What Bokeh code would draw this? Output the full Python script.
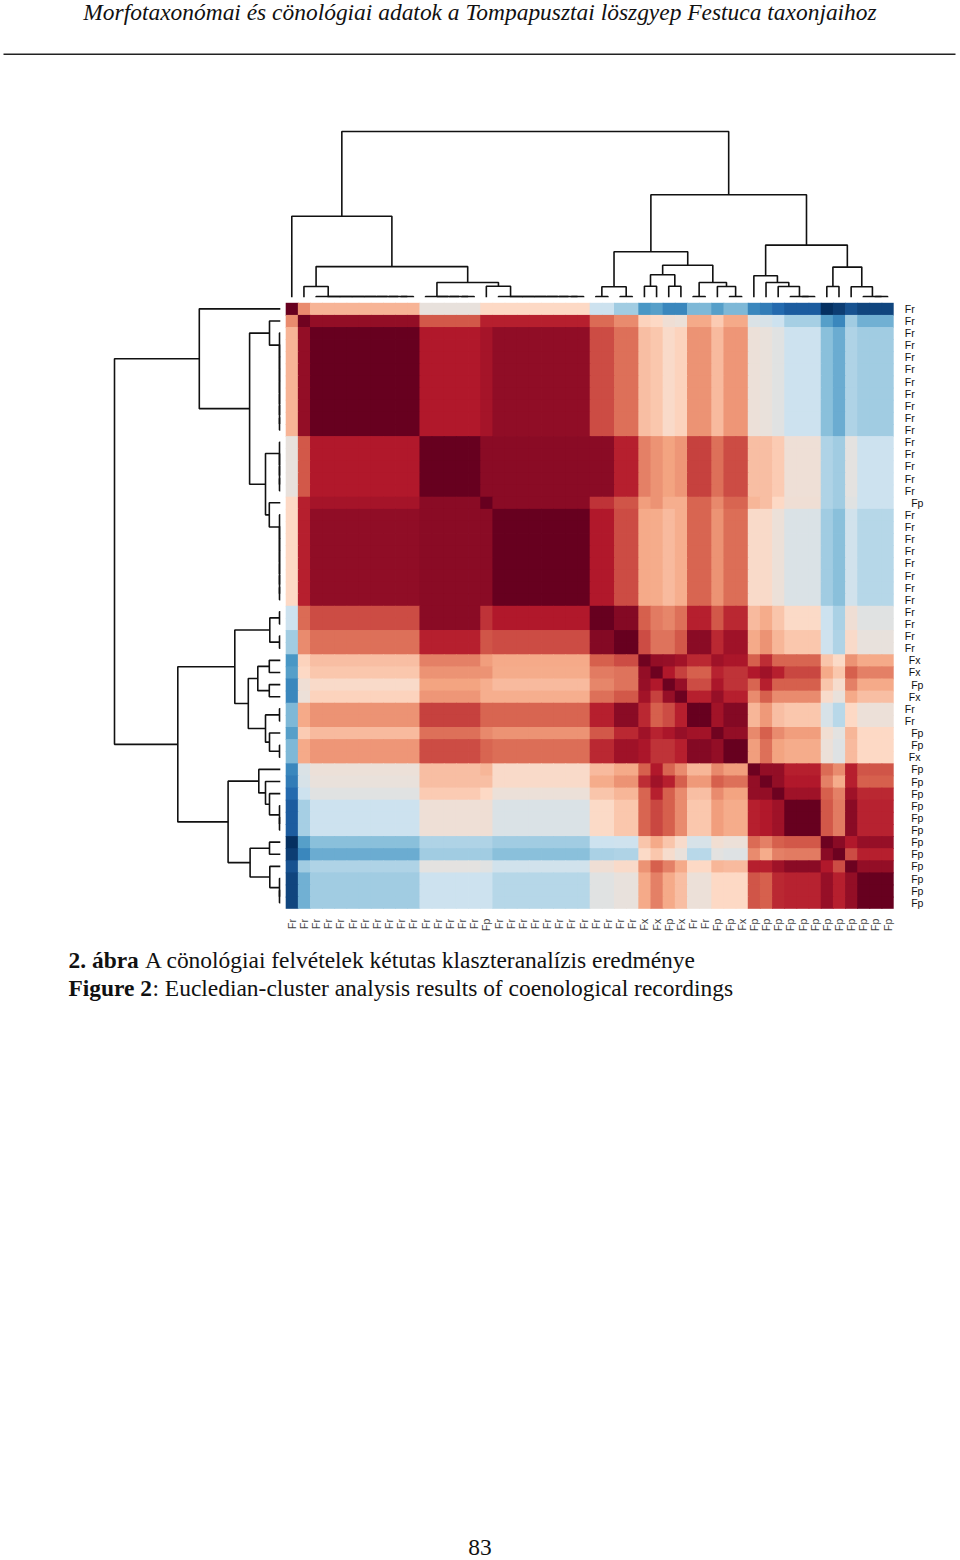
from bokeh.plotting import figure
from bokeh.models import ColumnDataSource, LinearColorMapper
from bokeh.transform import transform
from bokeh.core.properties import value
from bokeh.embed import file_html
from bokeh.resources import INLINE
import numpy as np

# ---------- data ----------
row_labels = ["Fr"] * 16 + ["Fp"] + ["Fr"] * 12 + ["Fx", "Fx", "Fp", "Fx", "Fr", "Fr", "Fp", "Fp", "Fx"] + ["Fp"] * 12

# sizes of the groups of identical rows / columns
group_sizes = [1, 1, 9, 5, 1, 8, 2, 2, 1, 1, 1, 1, 2, 1, 2, 1, 1, 1, 3, 1, 1, 1, 3]

# upper triangle of the symmetric correlation table, by group
g00 = [1.00, .47, .34, .02, .20, .20, -.20, -.35, -.58, -.55, -.65, -.65, -.45, -.55, -.45, -.65, -.70, -.78, -.83, -1.0, -.95, -.87, -.92]
g01 = [.97, .88, .62, .78, .78, .57, .47, .22, .20, .08, .05, .38, .25, .38, -.10, -.12, -.20, -.33, -.55, -.65, -.35, -.48]
g02 = [1.00, .80, .83, .89, .65, .55, .30, .27, .17, .22, .45, .32, .44, .05, .03, -.05, -.20, -.42, -.50, -.30, -.35]
g03 = [1.00, .90, .90, .90, .78, .50, .45, .40, .44, .68, .55, .65, .30, .30, .25, .07, -.30, -.35, -.02, -.20]
g04 = [1.00, .90, .72, .63, .42, .45, .36, .36, .58, .48, .58, .33, .30, .20, .08, -.30, -.35, -.05, -.20]
g05 = [1.00, .80, .65, .38, .37, .32, .36, .58, .45, .56, .17, .17, .05, -.10, -.35, -.42, -.17, -.28]
g06 = [1.00, .92, .60, .52, .49, .55, .78, .62, .75, .32, .37, .28, .18, -.20, -.32, .08, -.05]
g07 = [1.00, .65, .54, .54, .62, .90, .75, .85, .38, .45, .33, .27, -.18, -.30, .17, .02]
g08 = [.97, .88, .87, .84, .75, .85, .82, .60, .74, .58, .58, .28, .18, .45, .38]
g09 = [.98, .80, .68, .60, .77, .72, .80, .85, .78, .67, .38, .27, .60, .50]
g10 = [.98, .87, .65, .82, .72, .58, .78, .60, .60, .28, .14, .50, .38]
g11 = [.98, .78, .87, .78, .47, .60, .47, .47, .15, .03, .38, .30]
g12 = [1.00, .84, .92, .33, .43, .30, .27, -.12, -.27, .20, .05]
g13 = [.97, .88, .48, .60, .47, .42, .10, -.03, .33, .20]
g14 = [1.00, .42, .55, .40, .37, .05, -.07, .32, .20]
g15 = [.98, .88, .88, .78, .57, .47, .78, .63]
g16 = [.98, .88, .80, .50, .37, .78, .60]
g17 = [.98, .85, .60, .50, .85, .75]
g18 = [1.00, .62, .52, .90, .77]
g19 = [.98, .90, .80, .87]
g20 = [.98, .65, .78]
g21 = [.98, .88]
g22 = [1.00]
upper = [g00, g01, g02, g03, g04, g05, g06, g07, g08, g09, g10, g11, g12, g13, g14, g15, g16, g17, g18, g19, g20, g21, g22]

# dendrogram: (merge height, left child, right child); a leaf is a row/column index
FLAT = 0.8
def chain(a, b):
    return a if a == b else (FLAT, a, chain(a + 1, b))

tree = (165.8,
        (81.0, 0,
         (30.7,
          (10.8, 1, chain(2, 10)),
          (14.8, chain(11, 15), (11.0, 16, chain(17, 24))))),
        (102.5,
         (45.5,
          (10.5, chain(25, 26), chain(27, 28)),
          (32.0,
           (22.5, (11.0, 29, 30), (11.0, 31, 32)),
           (14.8, chain(33, 34), (10.8, 35, chain(36, 37))))),
         (52.2,
          (21.5, 38, (14.8, 39, (10.8, 40, chain(41, 43)))),
          (30.2, (10.8, 44, 45), (10.5, 46, chain(47, 49))))))

header = "Morfotaxonómai és cönológiai adatok a Tompapusztai löszgyep Festuca taxonjaihoz"
cap1_bold, cap1_rest = "2. ábra", "A cönológiai felvételek kétutas klaszteranalízis eredménye"
cap2_bold, cap2_rest = "Figure 2", ": Eucledian-cluster analysis results of coenological recordings"
page_no = "83"

palette_stops = ["#053061", "#2166ac", "#4393c3", "#92c5de", "#cde2ef", "#e6e2de",
                 "#fdd9c5", "#f4a582", "#d6604d", "#b2182b", "#67001f"]

# ---------- layout (page pixels) ----------
N = len(row_labels)
X0, CW = 285.2, 12.16
Y0, RH = 302.3, 12.12
BASE_Y, BASE_X = 296.8, 279.8
OVERLAP = 0.8

def cx(i): return X0 + CW * (np.asarray(i, float) + .5)
def cy(i): return Y0 + RH * (np.asarray(i, float) + .5)

p = figure(width=960, height=1560, x_range=(0, 960), y_range=(1560, 0),
           output_backend="svg", toolbar_location=None, min_border=0)
p.axis.visible = False
p.grid.visible = False
p.outline_line_color = None
p.styles = {"position": "absolute", "left": "0", "top": "0"}

# ---------- heat map ----------
groups = np.repeat(np.arange(len(group_sizes)), group_sizes)
G = np.zeros((len(upper), len(upper)))
for i, r in enumerate(upper):
    G[i, i:] = r
    G[i:, i] = r
M = G[np.ix_(groups, groups)]

def hex2rgb(h): return [int(h[k:k + 2], 16) for k in (1, 3, 5)]
stops = np.array([hex2rgb(h) for h in palette_stops], float)
pos = np.linspace(-1, 1, len(stops))
grid = np.linspace(-1, 1, 256)
palette = ["#%02x%02x%02x" % tuple(int(round(np.interp(g, pos, stops[:, c]))) for c in range(3)) for g in grid]
mapper = LinearColorMapper(palette=palette, low=-1, high=1)

ii, jj = np.meshgrid(np.arange(N), np.arange(N), indexing="ij")
ii, jj = ii.ravel(), jj.ravel()
# each cell runs slightly under its right and lower neighbours, so that no seam shows
src = ColumnDataSource(dict(left=X0 + CW * jj, right=X0 + CW * (jj + 1) + OVERLAP * (jj < N - 1),
                            top=Y0 + RH * ii, bottom=Y0 + RH * (ii + 1) + OVERLAP * (ii < N - 1),
                            v=M.ravel()))
p.quad(left="left", right="right", top="top", bottom="bottom", source=src,
       fill_color=transform("v", mapper), line_color=None)

# ---------- dendrograms ----------
links = []
def walk(node):
    if not isinstance(node, tuple):
        return float(node), 0.0
    h, a, b = node
    pa, ha = walk(a)
    pb, hb = walk(b)
    links.append((pa, pb, ha, hb, h))
    return (pa + pb) / 2, h
walk(tree)

top_x = [[cx(a), cx(a), cx(b), cx(b)] for a, b, ha, hb, h in links]
top_y = [[BASE_Y - ha, BASE_Y - h, BASE_Y - h, BASE_Y - hb] for a, b, ha, hb, h in links]
left_x = [[BASE_X - ha, BASE_X - h, BASE_X - h, BASE_X - hb] for a, b, ha, hb, h in links]
left_y = [[cy(a), cy(a), cy(b), cy(b)] for a, b, ha, hb, h in links]
for xs, ys in ((top_x, top_y), (left_x, left_y)):
    p.multi_line(xs=xs, ys=ys, line_color="#111111", line_width=1.6)

# ---------- tick labels ----------
right_x = {"Fr": 904.3, "Fx": 908.3, "Fp": 910.7}
p.text(x=[right_x[t] for t in row_labels], y=cy(np.arange(N)), text=row_labels,
       text_font=value("Liberation Sans"), text_font_size="10.5px", text_color="#111111",
       text_align="left", text_baseline="middle")
bottom_y = {"Fr": 928.5, "Fx": 930.0, "Fp": 930.5}
p.text(x=cx(np.arange(N)), y=[bottom_y[t] for t in row_labels], text=row_labels, angle=np.pi / 2,
       text_font=value("Liberation Sans"), text_font_size="10.5px", text_color="#444444",
       text_align="left", text_baseline="middle")

# ---------- page texts ----------
def put(x, y, s, style="normal", align="left"):
    p.text(x=[x], y=[y], text=[s], text_font=value("Liberation Serif"), text_font_size="23.45px",
           text_font_style=style, text_color="#111111", text_align=align, text_baseline="middle")

put(479.5, 11, header, "italic", "center")
p.line(x=[3, 955], y=[53.8, 53.8], line_color="#222222", line_width=1.5)
put(68, 959.5, cap1_bold, "bold")
put(144.5, 959.5, cap1_rest)
put(68, 987, cap2_bold, "bold")
put(152, 987, cap2_rest)
put(479.5, 1546.5, page_no, "normal", "center")

open("out.html", "w").write(file_html(p, INLINE))
